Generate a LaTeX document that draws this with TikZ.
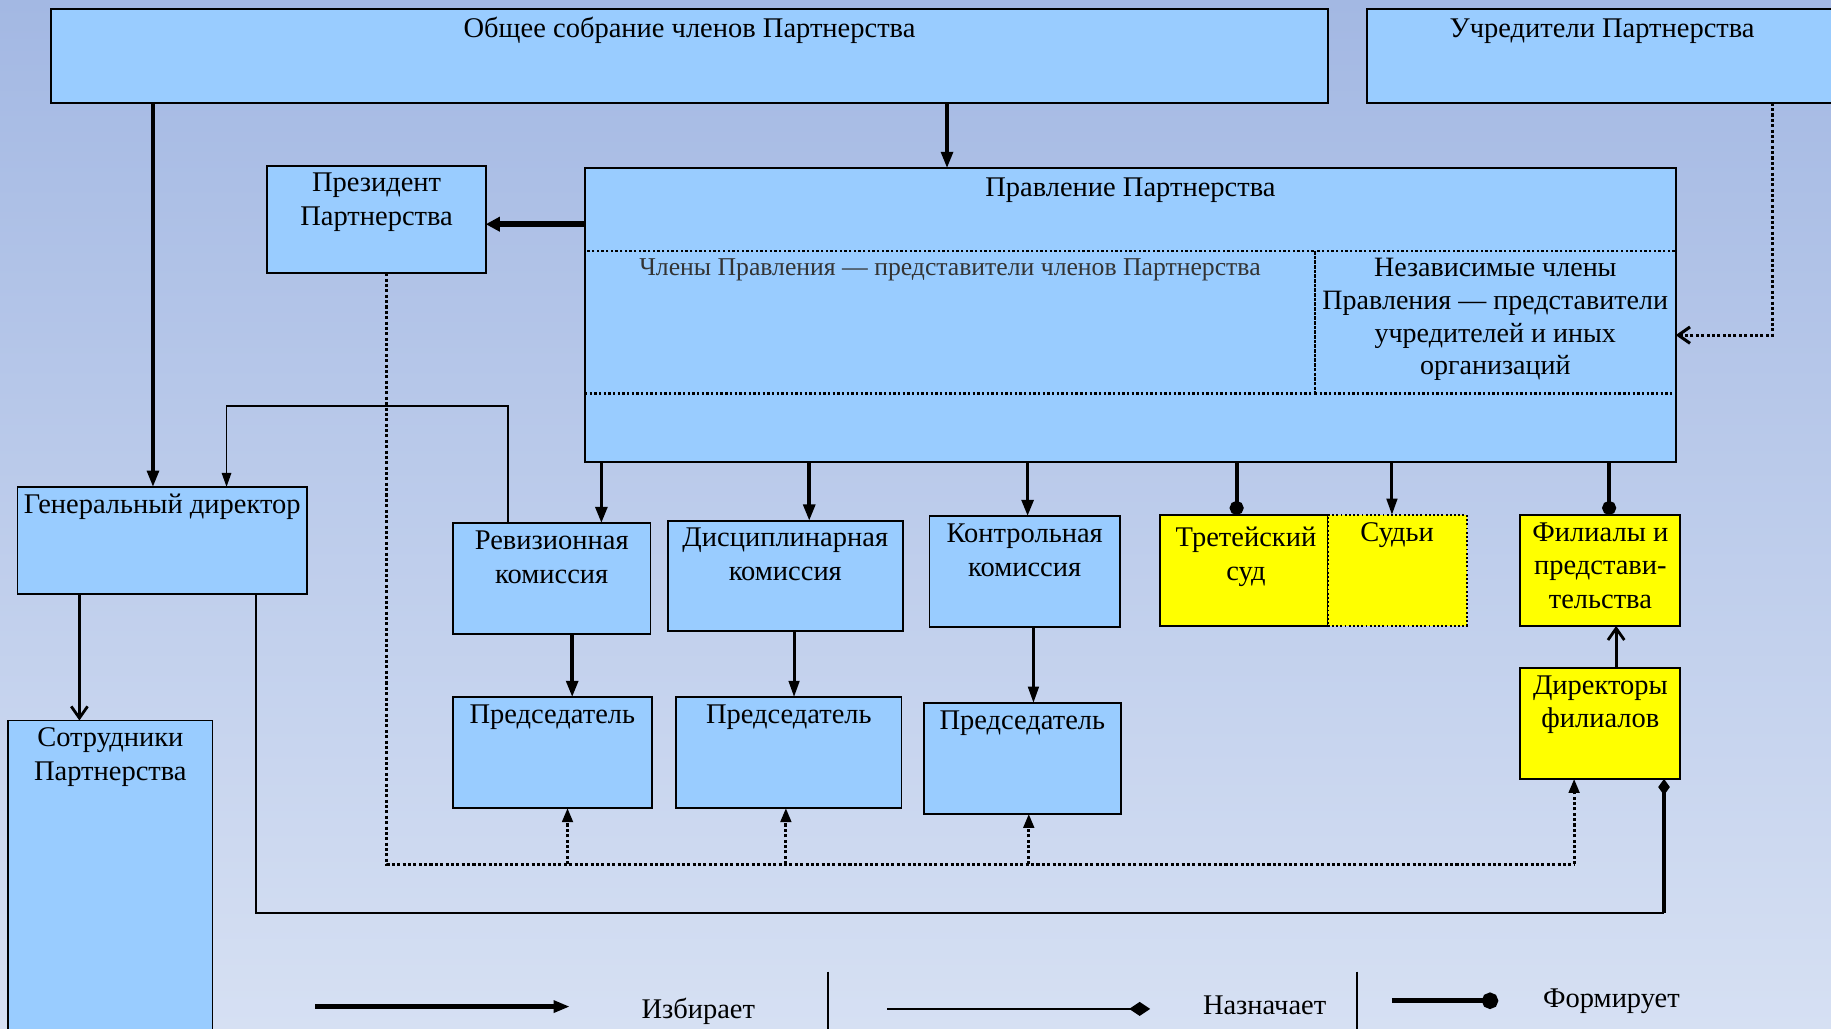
\documentclass[tikz,border=0pt]{standalone}
\usepackage{fontspec}
\setmainfont{Liberation Serif}
\newfontfamily\serifru{Liberation Serif}
\usetikzlibrary{arrows.meta,fit}
\definecolor{boxblue}{RGB}{153,204,255}
\definecolor{bgtop}{RGB}{163,184,227}
\definecolor{bgbot}{RGB}{214,224,243}
\definecolor{yel}{RGB}{255,255,0}
\begin{document}
\begin{tikzpicture}[x=0.5pt,y=-0.5pt,
  font=\serifru\fontsize{12.2}{14.5}\selectfont,
  box/.style={draw=black, line width=0.8pt, fill=boxblue, inner sep=0pt, outer sep=0pt},
  ybox/.style={box, fill=yel},
  cell/.style={draw=black, densely dotted, line width=1pt, inner sep=0pt, outer sep=0pt},
  lab/.style={anchor=north, align=center, inner sep=3pt},
  izb/.style={line width=1.6pt, -{Triangle[length=7pt,width=5pt]}},
  izbB/.style={line width=2.6pt, -{Triangle[length=6pt,width=6pt]}},
  thinarr/.style={line width=1.3pt, -{Triangle[length=7pt,width=4.5pt]}},
  openarr/.style={line width=1.2pt, -{Straight Barb[length=5pt,width=7pt]}},
  naz/.style={line width=0.9pt, -{Diamond[length=9pt,width=6pt]}},
  form/.style={line width=1.6pt, -{Circle[length=6pt]}},
  dline/.style={densely dotted, line width=1.3pt},
  darr/.style={dline, -{Triangle[length=6pt,width=4.5pt]}},
  dopen/.style={dline, -{Straight Barb[length=5pt,width=7pt]}},
  leg/.style={inner sep=0pt, anchor=center}
]
\useasboundingbox (0,0) rectangle (1568,881);
\clip (0,0) rectangle (1568,881);
\shade[top color=bgtop, bottom color=bgbot] (0,0) rectangle (1568,881);

% boxes
\node[box, fit={(44,8) (1137,88)}, label={[lab]north:Общее собрание членов Партнерства}] (obsh) {};
\node[box, fit={(1171,8) (1573,88)}, label={[lab, yshift=-1pt]north:Учредители Партнерства}] (uchr) {};
\node[box, fit={(229,142) (416,234)}, label={[lab]north:{Президент\\Партнерства}}] (pres) {};
\node[box, fit={(501,144) (1435,396)}, label={[lab, yshift=-1pt]north:Правление Партнерства}] (prav) {};
\node[cell, fit={(501,215) (1126,337)}, label={[lab, font=\serifru\fontsize{11}{13}\selectfont, text=black!80]north:Члены Правления — представители членов Партнерства}] (chl) {};
\node[cell, fit={(1126,215) (1435,337)}, label={[lab, font=\serifru\fontsize{12}{14}\selectfont]north:{Независимые члены\\Правления — представители\\учредителей и иных\\организаций}}] (nez) {};
\node[box, fit={(15,417) (263,509)}, label={[lab]north:Генеральный директор}] (gd) {};
\node[box, fit={(7,617) (182,900)}, label={[lab]north:{Сотрудники\\Партнерства}}] (sotr) {};
\node[box, fit={(388,448) (557,543)}, label={[lab]north:{Ревизионная\\комиссия}}] (rev) {};
\node[box, fit={(572,446) (773,540)}, label={[lab]north:{Дисциплинарная\\комиссия}}] (disc) {};
\node[box, fit={(796,442) (959,537)}, label={[lab]north:{Контрольная\\комиссия}}] (kontr) {};
\node[ybox, fit={(993,441) (1137,536)}, label={[lab, yshift=-2pt, xshift=1pt]north:{Третейский\\суд}}] (tret) {};
\node[ybox, densely dotted, line width=1pt, fit={(1137,441) (1256,536)}, label={[lab]north:Судьи}] (sud) {};
\node[ybox, fit={(1302,441) (1439,536)}, label={[lab]north:{Филиалы и\\представи-\\тельства}}] (fil) {};
\node[ybox, fit={(1302,572) (1439,667)}, label={[lab]north:{Директоры\\филиалов}}] (dirf) {};
\node[box, fit={(388,597) (558,692)}, label={[lab]north:Председатель}] (pr1) {};
\node[box, fit={(579,597) (772,692)}, label={[lab]north:Председатель}] (pr2) {};
\node[box, fit={(791,602) (960,697)}, label={[lab]north:Председатель}] (pr3) {};

% waypoints
\coordinate (busL) at (331,740);
\coordinate (busR) at (1348,740);
\coordinate (revUp) at (435,348);
\coordinate (gdL) at (219,782);
\coordinate (gdR) at (1425,782);
\coordinate (uchrR) at (1518,287);

% connectors
\draw[izb] (obsh.south -| 131,0) -- (gd.north -| 131,0);
\draw[izb] (obsh.south -| 811,0) -- (prav.north -| 811,0);
\draw[dopen] (uchr.south -| uchrR) -- (uchrR) -- (nez.east |- uchrR);
\draw[izbB] (prav.west |- 0,192) -- (pres.east |- 0,192);
\draw[dline] (pres.south -| busL) -- (busL) -- (busR);
\draw[darr] (busR) -- (dirf.south -| busR);
\draw[darr] (busL -| 486,0) -- (pr1.south -| 486,0);
\draw[darr] (busL -| 673,0) -- (pr2.south -| 673,0);
\draw[darr] (busL -| 881,0) -- (pr3.south -| 881,0);
\draw[line width=0.8pt, -{Triangle[length=6pt,width=4pt]}] (rev.north -| revUp) -- (revUp) -| (gd.north -| 194,0);
\draw[openarr] (gd.south -| 68,0) -- (sotr.north -| 68,0);
\draw[line width=0.8pt] (gd.south -| gdL) -- (gdL) -- (gdR);
\draw[line width=1.6pt, -{Diamond[length=7pt,width=5pt]}] (gdR) -- (dirf.south -| gdR);
\draw[izb] (prav.south -| 515,0) -- (rev.north -| 515,0);
\draw[izb] (prav.south -| 693,0) -- (disc.north -| 693,0);
\draw[izb] (prav.south -| 880,0) -- (kontr.north -| 880,0);
\draw[form] (prav.south -| 1059,0) -- (tret.north -| 1059,0);
\draw[thinarr] (prav.south -| 1192,0) -- (sud.north -| 1192,0);
\draw[form] (prav.south -| 1378,0) -- (fil.north -| 1378,0);
\draw[openarr] (dirf.north -| 1384,0) -- (fil.south -| 1384,0);
\draw[izb] (rev.south -| 490,0) -- (pr1.north -| 490,0);
\draw[thinarr] (disc.south -| 680,0) -- (pr2.north -| 680,0);
\draw[thinarr] (kontr.south -| 885,0) -- (pr3.north -| 885,0);

% legend
\coordinate (l1a) at (270,862); \coordinate (l1b) at (488,862);
\coordinate (l2a) at (760,864); \coordinate (l2b) at (985,864);
\coordinate (l3a) at (1192,857); \coordinate (l3b) at (1283,857);
\coordinate (s1a) at (709,832); \coordinate (s1b) at (709,881);
\coordinate (s2a) at (1162,832); \coordinate (s2b) at (1162,881);
\draw[line width=1.9pt, -{Triangle[length=7pt,width=5pt]}] (l1a) -- (l1b);
\draw[naz] (l2a) -- (l2b);
\draw[line width=2.3pt, -{Circle[length=7pt]}] (l3a) -- (l3b);
\draw[line width=0.8pt] (s1a) -- (s1b);
\draw[line width=0.8pt] (s2a) -- (s2b);
\node[leg] (t1) at (598,866) {Избирает};
\node[leg] (t2) at (1083,861) {Назначает};
\node[leg] (t3) at (1380,857) {Формирует};
\end{tikzpicture}
\end{document}
